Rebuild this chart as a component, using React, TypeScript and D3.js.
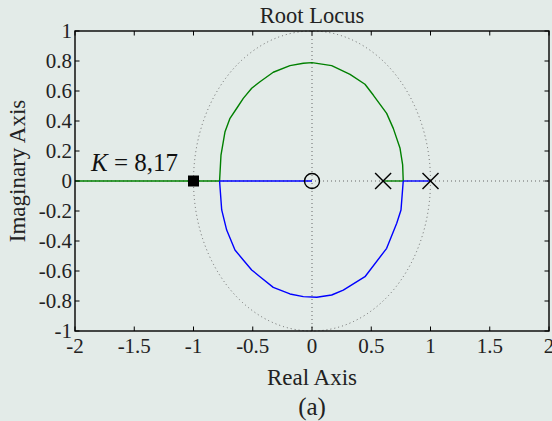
import React from "react";
import * as d3 from "d3";

// Axis ticks
const xTicks = [-2, -1.5, -1, -0.5, 0, 0.5, 1, 1.5, 2];
const yTicks = [-1, -0.8, -0.6, -0.4, -0.2, 0, 0.2, 0.4, 0.6, 0.8, 1];

// Branch 1 (green): pole 0.6 → breakaway, upper arc, then left along the real axis
const greenReal1: [number, number][] = [[0.6, 0], [0.77, 0]];
const greenArc: [number, number][] = [
  [0.77, 0], [0.765, 0.107], [0.743, 0.218], [0.686, 0.351], [0.63, 0.451],
  [0.517, 0.573], [0.447, 0.645], [0.321, 0.711], [0.166, 0.769], [0.0, 0.789],
  [-0.073, 0.785], [-0.186, 0.769], [-0.327, 0.725], [-0.439, 0.662],
  [-0.509, 0.618], [-0.58, 0.551], [-0.635, 0.485], [-0.692, 0.418],
  [-0.734, 0.329], [-0.768, 0.173], [-0.78, 0],
];
const greenReal2: [number, number][] = [[-0.78, 0], [-2, 0]];

// Branch 2 (blue): pole 1 → breakaway, lower arc, then right into the zero at 0
const blueReal1: [number, number][] = [[1, 0], [0.77, 0]];
const blueArc: [number, number][] = [
  [0.77, 0], [0.751, -0.193], [0.715, -0.282], [0.63, -0.449], [0.447, -0.638],
  [0.264, -0.727], [0.166, -0.76], [0.04, -0.775], [-0.073, -0.771],
  [-0.186, -0.753], [-0.327, -0.709], [-0.439, -0.638], [-0.509, -0.593],
  [-0.58, -0.527], [-0.65, -0.46], [-0.72, -0.327], [-0.762, -0.193], [-0.78, 0],
];
const blueReal2: [number, number][] = [[-0.78, 0], [0, 0]];

const poles = [0.6, 1];
const zeros = [0];
const gainPoint: [number, number] = [-1, 0];
const gainLabel = "8,17";

const W = 552;
const H = 421;
const M = { left: 75, right: 549, top: 31, bottom: 331 };
const BG = "#e3ebe8";
const FONT = '"Liberation Serif", "DejaVu Serif", "Times New Roman", serif';

export default function App() {
  const x = d3.scaleLinear().domain([-2, 2]).range([M.left, M.right]);
  const y = d3.scaleLinear().domain([-1, 1]).range([M.bottom, M.top]);
  const line = d3.line<[number, number]>().x((d) => x(d[0])).y((d) => y(d[1]));

  const fmt = (v: number) => String(v);
  const tickLen = 4.5;

  const cx = x(0);
  const cy = y(0);
  const tx = { fontFamily: FONT } as React.CSSProperties;
  const midX = (M.left + M.right) / 2;

  return (
    <div style={{ position: "fixed", left: 0, top: 0, width: W, height: H }}>
      <svg width={W} height={H} style={{ display: "block", fontFamily: FONT }}>
        <rect width={W} height={H} fill={BG} />

        {/* unit circle and axes through the origin */}
        <g stroke="#666" strokeWidth={1} strokeDasharray="1,3" fill="none">
          <ellipse cx={cx} cy={cy} rx={x(1) - x(0)} ry={y(0) - y(1)} />
          <line x1={M.left} x2={M.right} y1={cy} y2={cy} />
          <line x1={cx} x2={cx} y1={M.top} y2={M.bottom} />
        </g>

        {/* locus branches */}
        <g fill="none" strokeWidth={1.4} strokeLinejoin="round">
          <path d={line(greenReal2)!} stroke="#008000" />
          <path d={line(greenArc)!} stroke="#008000" />
          <path d={line(greenReal1)!} stroke="#008000" />
          <path d={line(blueArc)!} stroke="#0000ff" />
          <path d={line(blueReal2)!} stroke="#0000ff" />
          <path d={line(blueReal1)!} stroke="#0000ff" />
        </g>

        {/* poles */}
        {poles.map((p) => (
          <g key={p} stroke="#000" strokeWidth={1.4}>
            <line x1={x(p) - 8} y1={cy - 8} x2={x(p) + 8} y2={cy + 8} />
            <line x1={x(p) - 8} y1={cy + 8} x2={x(p) + 8} y2={cy - 8} />
          </g>
        ))}
        {/* zeros */}
        {zeros.map((z) => (
          <circle key={z} cx={x(z)} cy={cy} r={7.5} fill="none" stroke="#000" strokeWidth={1.4} />
        ))}

        {/* selected gain */}
        <rect x={x(gainPoint[0]) - 5.5} y={y(gainPoint[1]) - 5.5} width={11} height={11} fill="#000" />
        <text x={91} y={171} fontSize={25} fill="#111" style={tx}>
          <tspan fontStyle="italic">K</tspan>
          <tspan> = {gainLabel}</tspan>
        </text>

        {/* frame */}
        <rect x={M.left} y={M.top} width={M.right - M.left} height={M.bottom - M.top}
          fill="none" stroke="#000" strokeWidth={1.4} />

        {/* ticks */}
        <g stroke="#000" strokeWidth={1}>
          {xTicks.map((t) => (
            <g key={"xt" + t}>
              <line x1={x(t)} x2={x(t)} y1={M.bottom} y2={M.bottom - tickLen} />
              <line x1={x(t)} x2={x(t)} y1={M.top} y2={M.top + tickLen} />
            </g>
          ))}
          {yTicks.map((t) => (
            <g key={"yt" + t}>
              <line x1={M.left} x2={M.left + tickLen} y1={y(t)} y2={y(t)} />
              <line x1={M.right} x2={M.right - tickLen} y1={y(t)} y2={y(t)} />
            </g>
          ))}
        </g>

        {/* tick labels */}
        <g fontSize={21} fill="#222">
          {xTicks.map((t) => (
            <text key={"xl" + t} x={x(t)} y={353} textAnchor="middle" style={tx}>{fmt(t)}</text>
          ))}
          {yTicks.map((t) => (
            <text key={"yl" + t} x={72} y={y(t)} dy="0.35em" textAnchor="end" style={tx}>{fmt(t)}</text>
          ))}
        </g>

        {/* titles */}
        <text x={midX} y={23} fontSize={22.5} textAnchor="middle" fill="#222" style={tx}>Root Locus</text>
        <text x={midX} y={385} fontSize={23} textAnchor="middle" fill="#222" style={tx}>Real Axis</text>
        <text x={midX} y={415} fontSize={25} textAnchor="middle" fill="#222" style={tx}>(a)</text>
        <text transform={`translate(25,171) rotate(-90)`} fontSize={23} textAnchor="middle" fill="#222" style={tx}>Imaginary Axis</text>
      </svg>
    </div>
  );
}
